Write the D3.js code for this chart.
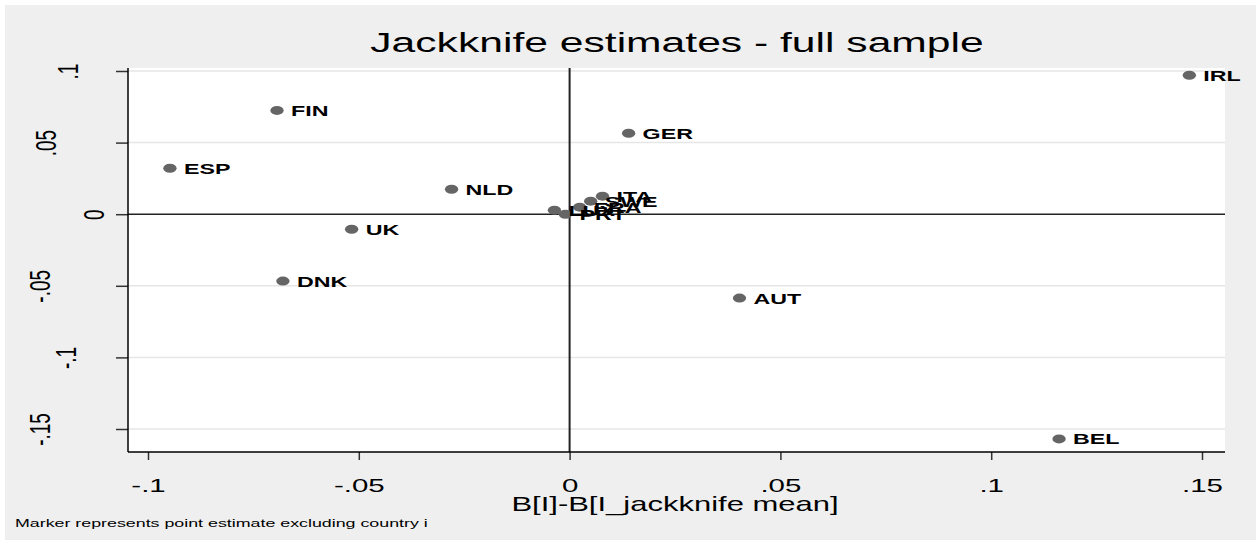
<!DOCTYPE html>
<html>
<head>
<meta charset="utf-8">
<script src="https://cdn.jsdelivr.net/npm/d3@7"></script>
<style>
  body { margin: 0; background: #fff; }
  svg text { font-family: "Liberation Sans", Arial, sans-serif; }
</style>
</head>
<body>
<svg id="chart" width="1256" height="545"></svg>
<script>
// Jackknife point estimates, one per excluded country
const countries = ["IRL", "FIN", "GER", "ESP", "NLD", "ITA", "SWE", "FRA", "LUX", "PRT", "UK", "DNK", "AUT", "BEL"];
const xValues   = [0.1470, -0.0694, 0.0140, -0.0948, -0.0280, 0.0078, 0.0050, 0.0024, -0.0036, -0.0010, -0.0517, -0.0680, 0.0403, 0.1161];
const yValues   = [0.0970, 0.0725, 0.0565, 0.0321, 0.0174, 0.0126, 0.0091, 0.0049, 0.0028, 0.0000, -0.0105, -0.0467, -0.0586, -0.1569];

const xTicks      = [-0.1, -0.05, 0, 0.05, 0.1, 0.15];
const xTickLabels = ["-.1", "-.05", "0", ".05", ".1", ".15"];
const yTicks      = [0.1, 0.05, 0, -0.05, -0.1, -0.15];
const yTickLabels = [".1", ".05", "0", "-.05", "-.1", "-.15"];

const titleText = "Jackknife estimates - full sample";
const xTitle    = "B[I]-B[I_jackknife mean]";
const noteText  = "Marker represents point estimate excluding country i";

// Layout
const W = 1256, H = 545;
const SX = 1.55;                         // horizontal stretch of glyphs and markers
const plot = { left: 128, right: 1225, top: 68, bottom: 452 };
// horizontal centre of each rotated y label
const yLabelCentre = { ".1": 67, ".05": 45, "0": 93, "-.05": 39, "-.1": 65, "-.15": 39 };

const svg = d3.select("#chart");

// Outer background
svg.append("rect").attr("x", 0).attr("y", 0).attr("width", W).attr("height", H).attr("fill", "#ffffff");
svg.append("rect").attr("x", 5).attr("y", 5).attr("width", W - 5).attr("height", 535).attr("fill", "#efefef");

// Plot region
svg.append("rect")
  .attr("x", plot.left).attr("y", plot.top)
  .attr("width", plot.right - plot.left).attr("height", plot.bottom - plot.top)
  .attr("fill", "#ffffff");

const x = d3.scaleLinear().domain([-0.1, 0.15]).range([148, 1202]);
const y = d3.scaleLinear().domain([-0.15, 0.1]).range([429, 71]);

// Horizontal grid lines
svg.append("g").selectAll("line")
  .data(yTicks.filter(d => d !== 0))
  .join("line")
  .attr("x1", plot.left).attr("x2", plot.right)
  .attr("y1", d => y(d)).attr("y2", d => y(d))
  .attr("stroke", "#e6e6e6").attr("stroke-width", 1.5);

// Reference lines at zero
svg.append("line")
  .attr("x1", plot.left).attr("x2", plot.right)
  .attr("y1", y(0)).attr("y2", y(0))
  .attr("stroke", "#222").attr("stroke-width", 1.5);
svg.append("line")
  .attr("x1", x(0)).attr("x2", x(0))
  .attr("y1", plot.top).attr("y2", plot.bottom)
  .attr("stroke", "#222").attr("stroke-width", 2);

// Axes
const xAxis = d3.axisBottom(x)
  .tickValues(xTicks)
  .tickFormat((d, i) => xTickLabels[i])
  .tickSize(8).tickSizeOuter(0);
const gx = svg.append("g").attr("transform", `translate(0,${plot.bottom})`).call(xAxis);
gx.select(".domain").remove();
gx.selectAll(".tick line").attr("stroke", "#333").attr("stroke-width", 1.5);
gx.selectAll(".tick text")
  .attr("y", null).attr("dy", null)
  .attr("transform", `translate(0,40) scale(${SX},1)`)
  .attr("text-anchor", "middle")
  .attr("font-size", 19)
  .attr("fill", "#000");

const yAxis = d3.axisLeft(y)
  .tickValues(yTicks)
  .tickFormat((d, i) => yTickLabels[i])
  .tickSize(12).tickSizeOuter(0);
const gy = svg.append("g").attr("transform", `translate(${plot.left},0)`).call(yAxis);
gy.select(".domain").remove();
gy.selectAll(".tick line").attr("stroke", "#333").attr("stroke-width", 1.5);
gy.selectAll(".tick text")
  .attr("x", null).attr("dy", null)
  .attr("transform", function (d, i) {
    const cx = yLabelCentre[yTickLabels[i]] - plot.left + 0.358 * 19 * SX;
    return `translate(${cx},0) scale(${SX},1) rotate(-90)`;
  })
  .attr("text-anchor", "middle")
  .attr("font-size", 19)
  .attr("fill", "#000");

// Axis lines
svg.append("line")
  .attr("x1", plot.left).attr("x2", plot.left)
  .attr("y1", plot.top).attr("y2", plot.bottom)
  .attr("stroke", "#000").attr("stroke-width", 1.5);
svg.append("line")
  .attr("x1", plot.left).attr("x2", plot.right)
  .attr("y1", plot.bottom).attr("y2", plot.bottom)
  .attr("stroke", "#000").attr("stroke-width", 1.5);

// Points and their labels
const points = countries.map((c, i) => ({ name: c, x: xValues[i], y: yValues[i] }));

svg.append("g").selectAll("ellipse")
  .data(points)
  .join("ellipse")
  .attr("cx", d => x(d.x)).attr("cy", d => y(d.y))
  .attr("rx", 4.3 * SX).attr("ry", 4.5)
  .attr("fill", "#656565");

svg.append("g").selectAll("text")
  .data(points)
  .join("text")
  .attr("transform", d => `translate(${x(d.x) + 14},${y(d.y) + 5.5}) scale(${SX},1)`)
  .attr("font-size", 15)
  .attr("font-weight", "bold")
  .attr("fill", "#000")
  .text(d => d.name);

// Titles and note
svg.append("text")
  .attr("transform", `translate(677,52) scale(${SX},1)`)
  .attr("text-anchor", "middle")
  .attr("font-size", 27.5)
  .attr("fill", "#000")
  .text(titleText);

svg.append("text")
  .attr("transform", `translate(675,511) scale(${SX},1)`)
  .attr("text-anchor", "middle")
  .attr("font-size", 20)
  .attr("fill", "#000")
  .text(xTitle);

svg.append("text")
  .attr("transform", `translate(15,527) scale(${SX},1)`)
  .attr("font-size", 11.5)
  .attr("fill", "#000")
  .text(noteText);
</script>
</body>
</html>
